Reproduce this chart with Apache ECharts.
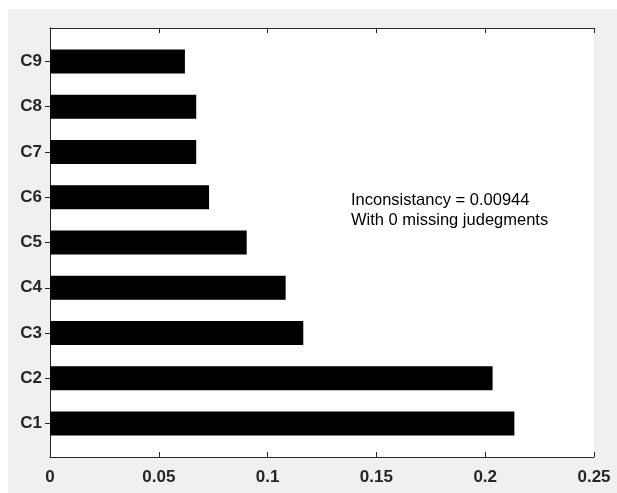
<!DOCTYPE html>
<html>
<head>
<meta charset="utf-8">
<script src="https://cdn.jsdelivr.net/npm/echarts@6/dist/echarts.min.js"></script>
<style>
html, body { margin: 0; padding: 0; background: #fff; }
#chart { width: 617px; height: 493px; }
</style>
</head>
<body>
<div id="chart"></div>
<script>
// criteria weights, bottom to top
var categories = ['C1', 'C2', 'C3', 'C4', 'C5', 'C6', 'C7', 'C8', 'C9'];
var weights = [0.2134, 0.2034, 0.1164, 0.1083, 0.0904, 0.0731, 0.0672, 0.0672, 0.0620];
var rowPos = [1, 2, 3, 4, 5, 6, 7, 8, 9];
var noteLines = ['Inconsistancy = 0.00944', 'With 0 missing judegments'];

var chart = echarts.init(document.getElementById('chart'));
var font = 'Liberation Sans, Arial, Helvetica, sans-serif';
var axisColor = '#262626';
var barSize = 0.53;

function xAxisOpt(pos, showLabel) {
  return {
    type: 'value',
    position: pos,
    min: 0,
    max: 0.25,
    interval: 0.05,
    axisLine: { show: true, lineStyle: { color: axisColor, width: 1 } },
    axisTick: { show: true, inside: true, length: 5, lineStyle: { color: axisColor } },
    axisLabel: {
      show: showLabel,
      margin: 12,
      color: axisColor,
      fontFamily: font,
      fontSize: 17,
      fontWeight: 'bold'
    },
    splitLine: { show: false }
  };
}

function yAxisOpt(pos, showLabel) {
  return {
    type: 'value',
    position: pos,
    min: 0.26,
    max: 9.74,
    axisLine: { show: true, lineStyle: { color: axisColor, width: 1 } },
    axisTick: { show: true, inside: true, length: 5, customValues: rowPos, lineStyle: { color: axisColor } },
    axisLabel: {
      show: showLabel,
      customValues: rowPos,
      margin: 8,
      color: axisColor,
      fontFamily: font,
      fontSize: 17,
      fontWeight: 'bold',
      formatter: function (v) { return categories[Math.round(v) - 1]; }
    },
    splitLine: { show: false }
  };
}

var option = {
  backgroundColor: '#fff',
  animation: false,
  grid: {
    left: 50,
    right: 23,
    top: 28,
    bottom: 36,
    show: true,
    backgroundColor: '#fff',
    borderWidth: 0
  },
  graphic: [
    {
      type: 'rect',
      left: 8,
      top: 9,
      z: -10,
      silent: true,
      shape: { width: 609, height: 484 },
      style: { fill: '#f0f0f0' }
    },
    {
      type: 'text',
      left: 351,
      top: 190,
      z: 10,
      style: {
        text: noteLines.join('\n'),
        fontFamily: font,
        fontSize: 16.5,
        lineHeight: 20,
        fill: '#000'
      }
    }
  ],
  xAxis: [xAxisOpt('bottom', true), xAxisOpt('top', false)],
  yAxis: [yAxisOpt('left', true), yAxisOpt('right', false)],
  series: [{
    type: 'custom',
    xAxisIndex: 0,
    yAxisIndex: 0,
    data: weights.map(function (w, i) { return [w, rowPos[i]]; }),
    renderItem: function (params, api) {
      var y = api.value(1);
      var p0 = api.coord([0, y]);
      var p1 = api.coord([api.value(0), y]);
      var h = api.size([0, barSize])[1];
      return {
        type: 'rect',
        shape: { x: p0[0], y: p0[1] - h / 2, width: p1[0] - p0[0], height: h },
        style: { fill: '#000' }
      };
    }
  }]
};

chart.setOption(option);
</script>
</body>
</html>
